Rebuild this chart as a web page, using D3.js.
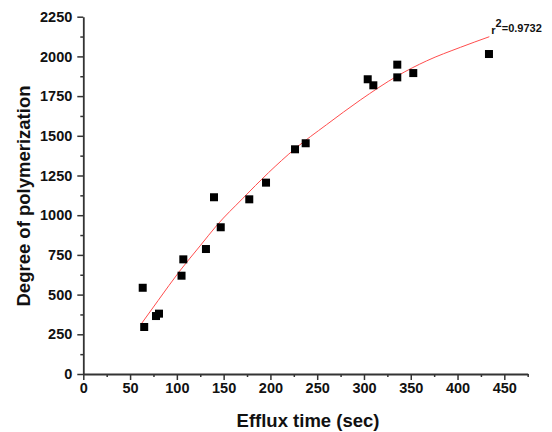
<!DOCTYPE html>
<html>
<head>
<meta charset="utf-8">
<script src="https://cdn.jsdelivr.net/npm/d3@7"></script>
<style>
  body { margin: 0; background: #fff; }
  svg { display: block; font-family: "Liberation Sans", Arial, sans-serif; }
</style>
</head>
<body>
<svg id="chart"></svg>
<script>
const width = 552;
const height = 432;

// efflux time (sec) and degree of polymerization
const effluxTime = [63.5, 65.1, 77.7, 80.9, 105, 106.9, 131.1, 146.9, 139.7, 177.4,
    195.3, 226.3, 237.7, 304, 310, 335.6, 335.6, 352.7, 433.6];
const polymerization = [543, 296, 365, 380, 619, 722, 787, 924, 1113, 1100,
    1205, 1415, 1453, 1856, 1818, 1948, 1868, 1895, 2015];

// fitted curve as it is drawn in the picture
const fitTime = [62.4, 80, 103, 125, 143, 170, 198, 226, 260, 296, 336, 367, 403, 434];
const fitValue = [319, 463, 648, 808, 938, 1103, 1268, 1417, 1570, 1725, 1878, 1972, 2057, 2124];

const xTicks = [0, 50, 100, 150, 200, 250, 300, 350, 400, 450];
const yTicks = [0, 250, 500, 750, 1000, 1250, 1500, 1750, 2000, 2250];
const rSquared = "0.9732";

const svg = d3.select("#chart").attr("width", width).attr("height", height);

const x = d3.scaleLinear().domain([0, 475]).range([83.3, 527.7]);
const y = d3.scaleLinear().domain([0, 2250]).range([374, 16.7]);

// axes - major ticks with labels, minor ticks without
const minorX = d3.range(25, 476, 50);
const minorY = d3.range(125, 2250, 250);

const gx = svg.append("g").attr("transform", `translate(0,${y(0)})`);
gx.call(d3.axisBottom(x).tickValues(xTicks).tickFormat(d3.format("d"))
    .tickSize(6).tickPadding(3).tickSizeOuter(0));
gx.append("g").call(d3.axisBottom(x).tickValues(minorX).tickSize(3).tickFormat("").tickSizeOuter(0))
    .select(".domain").remove();

const gy = svg.append("g").attr("transform", `translate(${x(0)},0)`);
gy.call(d3.axisLeft(y).tickValues(yTicks).tickFormat(d3.format("d"))
    .tickSize(6).tickPadding(5).tickSizeOuter(0));
gy.append("g").call(d3.axisLeft(y).tickValues(minorY).tickSize(3).tickFormat("").tickSizeOuter(0))
    .select(".domain").remove();

svg.selectAll(".domain").attr("stroke", "#333").attr("stroke-width", 1.8);
svg.selectAll(".tick line").attr("stroke", "#333").attr("stroke-width", 1.5);
svg.selectAll(".tick text")
    .attr("fill", "#111")
    .style("font-size", "14.5px")
    .style("font-weight", "bold")
    .style("font-family", "'Liberation Sans', Arial, sans-serif");

// fit line
svg.append("path")
    .datum(fitTime.map((d, i) => [d, fitValue[i]]))
    .attr("fill", "none")
    .attr("stroke", "#ff4d4d")
    .attr("stroke-width", 1)
    .attr("d", d3.line().curve(d3.curveMonotoneX).x(d => x(d[0])).y(d => y(d[1])));

// data points
svg.append("g")
    .selectAll("rect")
    .data(effluxTime.map((d, i) => [d, polymerization[i]]))
    .enter().append("rect")
    .attr("x", d => x(d[0]) - 4)
    .attr("y", d => y(d[1]) - 4)
    .attr("width", 8)
    .attr("height", 8)
    .attr("fill", "#000");

// r^2 label
const rText = svg.append("text")
    .attr("x", x(fitTime[fitTime.length - 1]) + 2)
    .attr("y", 34)
    .attr("fill", "#111")
    .style("font-size", "11px")
    .style("font-weight", "bold");
rText.append("tspan").text("r");
rText.append("tspan").attr("dy", -7).style("font-size", "11px").text("2");
rText.append("tspan").attr("dy", 5).text("=" + rSquared);

// axis titles
svg.append("text")
    .attr("x", 308)
    .attr("y", 427)
    .attr("text-anchor", "middle")
    .attr("fill", "#111")
    .style("font-size", "18.5px")
    .style("font-weight", "bold")
    .text("Efflux time (sec)");

svg.append("text")
    .attr("transform", "translate(30,196) rotate(-90)")
    .attr("text-anchor", "middle")
    .attr("fill", "#111")
    .style("font-size", "18.5px")
    .style("font-weight", "bold")
    .text("Degree of polymerization");
</script>
</body>
</html>
